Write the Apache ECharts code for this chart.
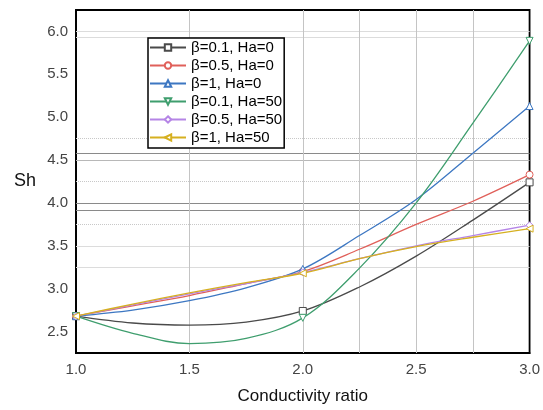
<!DOCTYPE html>
<html><head><meta charset="utf-8">
<script src="https://cdn.jsdelivr.net/npm/echarts@6/dist/echarts.min.js"></script>
<style>html,body{margin:0;padding:0;background:#fff}#c{width:543px;height:410px}</style>
</head><body><div id="c"></div>
<script>
const xs = [1.0, 1.25, 1.5, 1.75, 2.0, 2.25, 2.5, 2.75, 3.0];
const markerX = [1.0, 2.0, 3.0];
const seriesNames = ['β=0.1, Ha=0', 'β=0.5, Ha=0', 'β=1, Ha=0', 'β=0.1, Ha=50', 'β=0.5, Ha=50', 'β=1, Ha=50'];
const b01Ha0  = [2.68, 2.60, 2.575, 2.61, 2.74, 3.02, 3.38, 3.80, 4.24];
const b05Ha0  = [2.68, 2.80, 2.92, 3.06, 3.20, 3.46, 3.75, 4.02, 4.33];
const b1Ha0   = [2.68, 2.75, 2.86, 3.01, 3.23, 3.62, 4.04, 4.58, 5.13];
const b01Ha50 = [2.68, 2.48, 2.36, 2.42, 2.66, 3.24, 4.00, 4.93, 5.89];
const b05Ha50 = [2.68, 2.81, 2.94, 3.06, 3.19, 3.35, 3.50, 3.62, 3.74];
const b1Ha50  = [2.68, 2.82, 2.95, 3.07, 3.18, 3.35, 3.49, 3.60, 3.70];
const xTickLabels = ['1.0', '1.5', '2.0', '2.5', '3.0'];
const yTickLabels = ['2.5', '3.0', '3.5', '4.0', '4.5', '5.0', '5.5', '6.0'];
const hGridDark = [4.58, 4.0, 3.92];
const hGridMid = [4.5];
const hGridDotted = [4.75, 4.25, 3.75];
const hGridLight = [6.0, 5.93, 3.5, 3.25];
const vGrid = [1.5, 2.0, 2.25, 2.5, 2.75];

const allValues = [b01Ha0, b05Ha0, b1Ha0, b01Ha50, b05Ha50, b1Ha50];
const colors = ['#4a4a4a', '#e0605a', '#3d77c2', '#3f9e6e', '#b585e6', '#d6b020'];
const symbols = ['rect', 'circle', 'triangle', 'path://M0,0 L10,0 L5,10 Z', 'diamond', 'path://M0,5 L10,0 L10,10 Z'];

function fmt1(v){ return (Math.round(v*100)/100).toFixed(1); }

const chart = echarts.init(document.getElementById('c'));
const lineSeries = allValues.map((vals, i) => ({
  name: seriesNames[i],
  type: 'line',
  smooth: 0.35,
  data: xs.map((x, j) => [x, vals[j]]),
  symbol: symbols[i],
  showSymbol: true,
  showAllSymbol: true,
  symbolSize: (v) => markerX.indexOf(v[0]) >= 0 ? 7 : 0,
  lineStyle: { color: colors[i], width: 1.3 },
  itemStyle: { color: '#ffffff', borderColor: colors[i], borderWidth: 1 },
  z: 3 + i
}));

function hLines(vals, color, type, w){
  return vals.map(v => ({ yAxis: v, lineStyle: { color: color, type: type, width: w } }));
}
const gridSeries = {
  type: 'line', name: 'grid', data: [], silent: true, z: 1,
  markLine: {
    silent: true, symbol: 'none', label: { show: false }, animation: false, z: 1,
    data: [].concat(
      hLines(hGridDark, '#8a8a8a', 'solid', 1),
      hLines(hGridMid, '#b8b8b8', 'solid', 1),
      hLines(hGridDotted, '#c8c8c8', 'dotted', 1),
      hLines(hGridLight, '#dcdcdc', 'solid', 1),
      vGrid.map(v => ({ xAxis: v, lineStyle: { color: '#c4c4c4', type: 'solid', width: 1 } }))
    )
  }
};

chart.setOption({
  animation: false,
  backgroundColor: '#ffffff',
  textStyle: { fontFamily: 'Liberation Sans, Arial, sans-serif' },
  grid: { left: 76, right: 10, top: 10, bottom: 53, show: true, borderColor: '#000', borderWidth: 1.8, backgroundColor: 'transparent' },
  legend: {
    data: seriesNames, z: 50,
    orient: 'vertical', left: 148, top: 38,
    backgroundColor: '#ffffff', borderColor: '#000', borderWidth: 1.5,
    padding: [1, 2, 2, 1], itemGap: 1, itemWidth: 36, itemHeight: 8,
    textStyle: { fontSize: 15, color: '#000', fontFamily: 'Liberation Sans, Arial, sans-serif', lineHeight: 17 }
  },
  xAxis: {
    type: 'value', min: 1.0, max: 3.0, interval: 0.25,
    name: 'Conductivity ratio', nameLocation: 'middle', nameGap: 35,
    nameTextStyle: { fontSize: 17, color: '#111' },
    axisLine: { show: true, lineStyle: { color: '#000', width: 1.8 } },
    axisTick: { show: false },
    splitLine: { show: false },
    axisLabel: { fontSize: 15, color: '#444', margin: 9,
      formatter: (v) => { const s = fmt1(v); return (Math.abs(v*2 - Math.round(v*2)) < 1e-6 && xTickLabels.indexOf(s) >= 0) ? s : ''; } }
  },
  yAxis: {
    type: 'value', min: 2.25, max: 6.25, interval: 0.25,
    name: 'Sh', nameLocation: 'middle', nameGap: 40, nameRotate: 0,
    nameTextStyle: { fontSize: 18, color: '#111' },
    axisLine: { show: true, lineStyle: { color: '#000', width: 1.8 } },
    axisTick: { show: false },
    splitLine: { show: false },
    axisLabel: { fontSize: 15, color: '#444', margin: 8,
      formatter: (v) => { const s = fmt1(v); return (Math.abs(v*2 - Math.round(v*2)) < 1e-6 && yTickLabels.indexOf(s) >= 0) ? s : ''; } }
  },
  series: [gridSeries].concat(lineSeries)
});
</script></body></html>
